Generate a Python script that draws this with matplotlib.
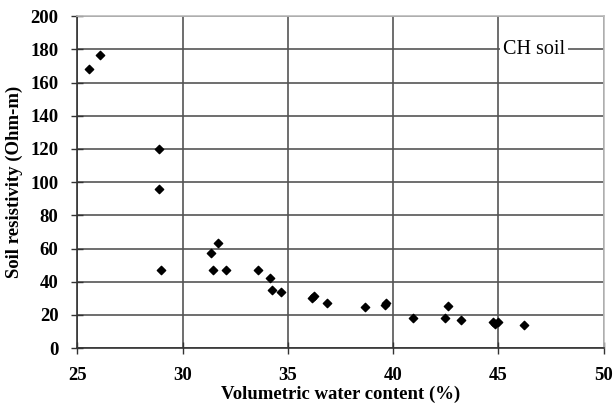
import matplotlib
matplotlib.use("Agg")
import matplotlib.pyplot as plt

# Volumetric water content (%) and soil resistivity (Ohm-m)
water_content = [25.56, 26.06, 28.86, 28.86, 29.0, 31.33, 31.66, 31.46, 32.06, 33.6,
                 34.16, 34.24, 34.68, 36.15, 36.22, 36.87, 38.67, 39.62, 39.68,
                 40.93, 42.48, 42.6, 43.22, 44.75, 44.85, 45.0, 46.2]
resistivity = [167.9, 176.3, 119.7, 96.0, 46.8, 57.2, 63.1, 46.8, 46.8, 46.8,
               42.0, 34.9, 33.7, 30.2, 31.3, 27.5, 24.9, 26.0, 27.0,
               18.3, 18.3, 25.5, 17.1, 16.0, 14.3, 16.0, 14.1]

x_ticks = [25, 30, 35, 40, 45, 50]
y_ticks = [0, 20, 40, 60, 80, 100, 120, 140, 160, 180, 200]

plt.rcParams['font.family'] = ['Liberation Serif', 'DejaVu Serif']

fig = plt.figure(figsize=(6.13, 4.13), dpi=100)
ax = fig.add_axes([0.126, 0.157, 0.859, 0.804])

ax.scatter(water_content, resistivity, marker='D', s=18, color='black', zorder=3)

ax.set_xlim(25, 50)
ax.set_ylim(0, 200)
ax.set_xticks(x_ticks)
ax.set_yticks(y_ticks)
ax.grid(True, color='#555555', linewidth=1.2, zorder=0)
ax.set_axisbelow(True)

for s in ['top', 'right']:
    ax.spines[s].set_color('#bbbbbb')
    ax.spines[s].set_linewidth(1.2)
for s in ['left', 'bottom']:
    ax.spines[s].set_color('#333333')
    ax.spines[s].set_linewidth(1.2)

ax.tick_params(direction='inout', length=9, width=1.0, color='#333333',
               labelsize=13.5, pad=9)
for lab in ax.get_xticklabels() + ax.get_yticklabels():
    lab.set_fontweight('bold')

ax.set_xlabel('Volumetric water content (%)', fontsize=13.5, fontweight='bold', labelpad=1)
ax.set_ylabel('Soil resistivity (Ohm-m)', fontsize=13.5, fontweight='bold', labelpad=5)

ax.text(45.2, 180, 'CH soil', fontsize=14.5, va='center', ha='left',
        bbox=dict(facecolor='white', edgecolor='none', pad=2), zorder=4)

fig.savefig('out.png', dpi=100)
